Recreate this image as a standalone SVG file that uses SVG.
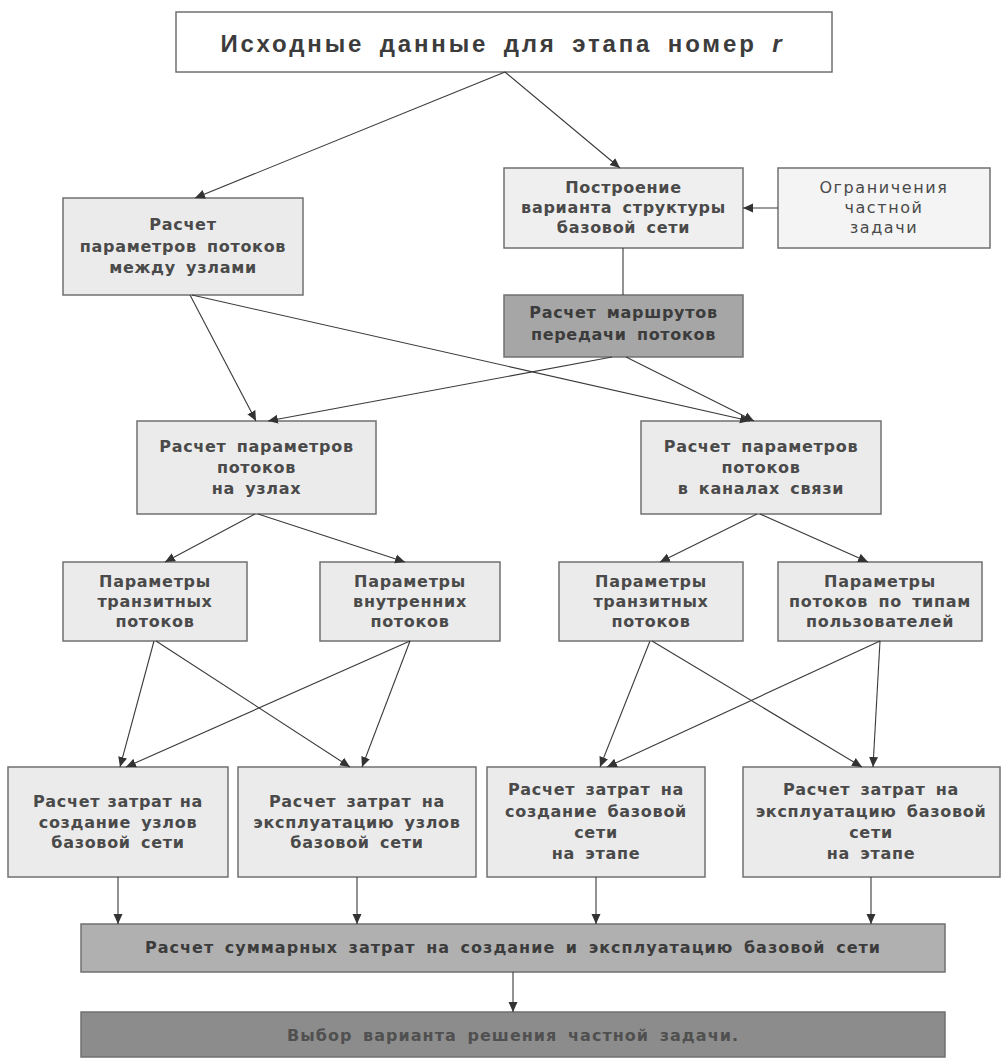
<svg xmlns="http://www.w3.org/2000/svg" width="1003" height="1059" viewBox="0 0 1003 1059">
<style>
.box{fill:#ebebeb;stroke:#707070;stroke-width:1.5}
.t{font-family:"DejaVu Sans","Liberation Sans",sans-serif;font-size:16px;font-weight:bold;fill:#4a4a4a;text-anchor:middle;word-spacing:4px;letter-spacing:0.7px}
.r{font-weight:normal;letter-spacing:1.6px}
.c{fill:none;stroke:#3a3a3a;stroke-width:1.1}
</style>
<defs>
<marker id="a" markerUnits="userSpaceOnUse" markerWidth="10" markerHeight="10" refX="10" refY="5" orient="auto" viewBox="0 0 10 10">
<path d="M0,0.5 L10,5 L0,9.5 z" fill="#333"/>
</marker>
</defs>
<rect width="1003" height="1059" fill="#ffffff"/>

<g id="n-top">
<rect x="176" y="12" width="656" height="60" fill="#ffffff" stroke="#707070" stroke-width="1.5"/>
<text class="t" x="501" y="52" style="font-family:'Liberation Sans','DejaVu Sans',sans-serif;font-size:24px;word-spacing:6px;fill:#3c3c3c;letter-spacing:0" textLength="561" lengthAdjust="spacing">Исходные данные для этапа номер <tspan font-style="italic">r</tspan></text>
</g>

<g id="n-between">
<rect class="box" x="63" y="198" width="240" height="97"/>
<text class="t" x="183" y="230">Расчет</text>
<text class="t" x="183" y="252">параметров потоков</text>
<text class="t" x="183" y="273">между узлами</text>
</g>

<g id="n-build">
<rect class="box" x="504" y="168" width="239" height="80" style="fill:#efefef"/>
<text class="t" x="623.5" y="193">Построение</text>
<text class="t" x="623.5" y="213">варианта структуры</text>
<text class="t" x="623.5" y="233">базовой сети</text>
</g>

<g id="n-limits">
<rect class="box" x="778" y="168" width="212" height="80" style="fill:#f4f4f4"/>
<text class="t r" x="884" y="193">Ограничения</text>
<text class="t r" x="884" y="213">частной</text>
<text class="t r" x="884" y="233">задачи</text>
</g>

<g id="n-routes">
<rect class="box" x="504" y="295" width="239" height="62" style="fill:#a6a6a6"/>
<text class="t" x="623.5" y="318" style="fill:#3c3c3c">Расчет маршрутов</text>
<text class="t" x="623.5" y="340" style="fill:#3c3c3c">передачи потоков</text>
</g>

<g id="n-nodes">
<rect class="box" x="137" y="421" width="239" height="93"/>
<text class="t" x="256.5" y="452">Расчет параметров</text>
<text class="t" x="256.5" y="473">потоков</text>
<text class="t" x="256.5" y="494">на узлах</text>
</g>

<g id="n-channels">
<rect class="box" x="641" y="421" width="240" height="93"/>
<text class="t" x="761" y="452">Расчет параметров</text>
<text class="t" x="761" y="473">потоков</text>
<text class="t" x="761" y="494">в каналах связи</text>
</g>

<g id="n-transit-l">
<rect class="box" x="63" y="562" width="184" height="79"/>
<text class="t" x="155" y="587">Параметры</text>
<text class="t" x="155" y="607">транзитных</text>
<text class="t" x="155" y="627">потоков</text>
</g>

<g id="n-inner">
<rect class="box" x="320" y="562" width="180" height="79"/>
<text class="t" x="410" y="587">Параметры</text>
<text class="t" x="410" y="607">внутренних</text>
<text class="t" x="410" y="627">потоков</text>
</g>

<g id="n-transit-r">
<rect class="box" x="559" y="562" width="184" height="79"/>
<text class="t" x="651" y="587">Параметры</text>
<text class="t" x="651" y="607">транзитных</text>
<text class="t" x="651" y="627">потоков</text>
</g>

<g id="n-types">
<rect class="box" x="778" y="562" width="204" height="79"/>
<text class="t" x="880" y="587">Параметры</text>
<text class="t" x="880" y="607">потоков по типам</text>
<text class="t" x="880" y="627">пользователей</text>
</g>

<g id="n-cost-create-nodes">
<rect class="box" x="8" y="767" width="220" height="110"/>
<text class="t" x="118" y="807" style="word-spacing:1px">Расчет затрат на</text>
<text class="t" x="118" y="828">создание узлов</text>
<text class="t" x="118" y="848">базовой сети</text>
</g>

<g id="n-cost-oper-nodes">
<rect class="box" x="238" y="767" width="238" height="110"/>
<text class="t" x="357" y="807">Расчет затрат на</text>
<text class="t" x="357" y="828">эксплуатацию узлов</text>
<text class="t" x="357" y="848">базовой сети</text>
</g>

<g id="n-cost-create-net">
<rect class="box" x="487" y="767" width="218" height="110"/>
<text class="t" x="596" y="795">Расчет затрат на</text>
<text class="t" x="596" y="817">создание базовой</text>
<text class="t" x="596" y="838">сети</text>
<text class="t" x="596" y="859">на этапе</text>
</g>

<g id="n-cost-oper-net">
<rect class="box" x="743" y="767" width="257" height="110"/>
<text class="t" x="871" y="795">Расчет затрат на</text>
<text class="t" x="871" y="817">эксплуатацию базовой</text>
<text class="t" x="871" y="838">сети</text>
<text class="t" x="871" y="859">на этапе</text>
</g>

<g id="n-total">
<rect class="box" x="81" y="924" width="864" height="48" style="fill:#b0b0b0"/>
<text class="t" x="512.5" y="953" style="fill:#3c3c3c;letter-spacing:0" textLength="735" lengthAdjust="spacing">Расчет суммарных затрат на создание и эксплуатацию базовой сети</text>
</g>

<g id="n-choice">
<rect class="box" x="81" y="1012" width="864" height="45" style="fill:#8c8c8c"/>
<text class="t" x="512.5" y="1041" style="fill:#505050;letter-spacing:0" textLength="451" lengthAdjust="spacing">Выбор варианта решения частной задачи.</text>
</g>

<g id="connectors">
<line class="c" x1="505" y1="72" x2="195" y2="198" marker-end="url(#a)"/>
<line class="c" x1="505" y1="72" x2="620" y2="168" marker-end="url(#a)"/>
<line class="c" x1="778" y1="208" x2="743" y2="208" marker-end="url(#a)"/>
<line class="c" x1="623" y1="248" x2="623" y2="295"/>
<line class="c" x1="190" y1="295" x2="256" y2="421" marker-end="url(#a)"/>
<line class="c" x1="192" y1="295" x2="750" y2="421" marker-end="url(#a)"/>
<line class="c" x1="612" y1="357" x2="268" y2="421" marker-end="url(#a)"/>
<line class="c" x1="626" y1="357" x2="754" y2="421" marker-end="url(#a)"/>
<line class="c" x1="255" y1="514" x2="165" y2="562" marker-end="url(#a)"/>
<line class="c" x1="258" y1="514" x2="405" y2="562" marker-end="url(#a)"/>
<line class="c" x1="757" y1="514" x2="660" y2="562" marker-end="url(#a)"/>
<line class="c" x1="760" y1="514" x2="868" y2="562" marker-end="url(#a)"/>
<line class="c" x1="154" y1="641" x2="120" y2="767" marker-end="url(#a)"/>
<line class="c" x1="156" y1="641" x2="350" y2="767" marker-end="url(#a)"/>
<line class="c" x1="410" y1="641" x2="126" y2="767" marker-end="url(#a)"/>
<line class="c" x1="410" y1="641" x2="362" y2="767" marker-end="url(#a)"/>
<line class="c" x1="650" y1="641" x2="600" y2="767" marker-end="url(#a)"/>
<line class="c" x1="652" y1="641" x2="862" y2="767" marker-end="url(#a)"/>
<line class="c" x1="880" y1="641" x2="607" y2="767" marker-end="url(#a)"/>
<line class="c" x1="880" y1="641" x2="873" y2="767" marker-end="url(#a)"/>
<line class="c" x1="118" y1="877" x2="118" y2="924" marker-end="url(#a)"/>
<line class="c" x1="357" y1="877" x2="357" y2="924" marker-end="url(#a)"/>
<line class="c" x1="596" y1="877" x2="596" y2="924" marker-end="url(#a)"/>
<line class="c" x1="871" y1="877" x2="871" y2="924" marker-end="url(#a)"/>
<line class="c" x1="513" y1="972" x2="513" y2="1012" marker-end="url(#a)"/>
</g>
</svg>
